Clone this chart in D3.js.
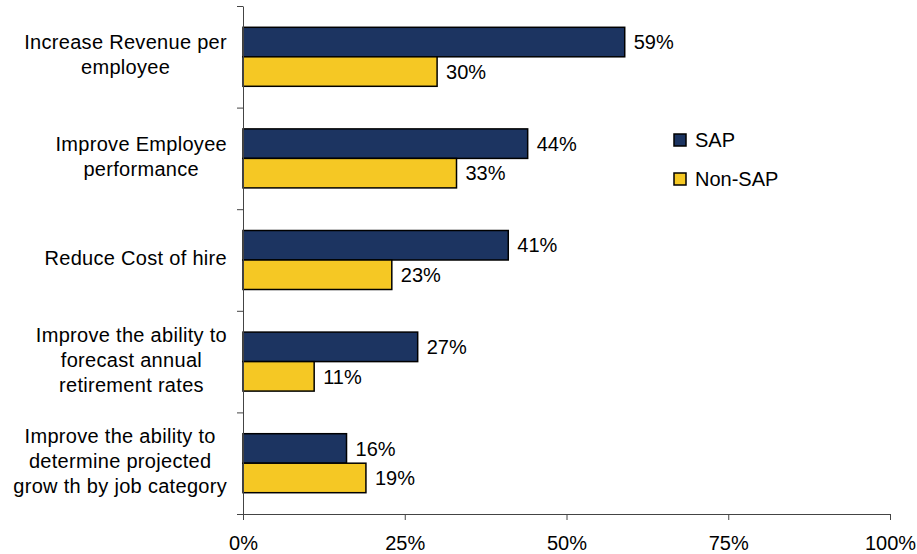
<!DOCTYPE html>
<html>
<head>
<meta charset="utf-8">
<script src="https://cdn.jsdelivr.net/npm/d3@7"></script>
<style>
  body { margin: 0; background: #fff; }
  svg { font-family: "Liberation Sans", Arial, sans-serif; }
</style>
</head>
<body>
<svg id="chart" width="917" height="554"></svg>
<script>
// data
const categories = [
  ['Increase Revenue per', 'employee'],
  ['Improve Employee', 'performance'],
  ['Reduce Cost of hire'],
  ['Improve the ability to', 'forecast annual', 'retirement rates'],
  ['Improve the ability to', 'determine projected', 'grow th by job category']
];
const series = ['SAP', 'Non-SAP'];
const sapValues = [0.59, 0.44, 0.41, 0.27, 0.16];
const nonSapValues = [0.30, 0.33, 0.23, 0.11, 0.19];
const xTicks = [0, 0.25, 0.5, 0.75, 1];
const colors = ['#1c3461', '#f5c824'];

const svg = d3.select('#chart');
const fontSize = 20;

const x = d3.scaleLinear().domain([0, 1]).range([243, 890]);
const catIdx = categories.map((d, i) => i);
const y = d3.scaleBand().domain(catIdx).range([6, 514]);
const yEdges = d3.scaleLinear().domain([0, categories.length]).range([6, 514]);
const sub = d3.scaleBand().domain(series)
  .range([y.bandwidth() / 2 - 29.5, y.bandwidth() / 2 + 29.5]);

const rows = catIdx.map(i => ({ i, vals: [sapValues[i], nonSapValues[i]] }));

// bars
const groups = svg.selectAll('g.cat')
  .data(rows)
  .enter().append('g')
    .attr('class', 'cat')
    .attr('transform', d => `translate(0, ${y(d.i)})`);

groups.selectAll('rect')
  .data(d => d.vals.map((v, k) => ({ v, k })))
  .enter().append('rect')
    .attr('x', x(0))
    .attr('y', d => sub(series[d.k]))
    .attr('width', d => x(d.v) - x(0))
    .attr('height', sub.bandwidth())
    .attr('fill', d => colors[d.k])
    .attr('stroke', '#000')
    .attr('stroke-width', 1.5);

groups.selectAll('text.val')
  .data(d => d.vals.map((v, k) => ({ v, k })))
  .enter().append('text')
    .attr('class', 'val')
    .attr('x', d => x(d.v) + 9)
    .attr('y', d => sub(series[d.k]) + sub.bandwidth() / 2)
    .attr('dy', '0.36em')
    .style('font-size', fontSize + 'px')
    .attr('fill', '#000')
    .text(d => d3.format('.0%')(d.v));

// y axis: line plus ticks at band edges
const yAxis = d3.axisLeft(yEdges)
  .tickValues(d3.range(categories.length + 1))
  .tickFormat('')
  .tickSize(6)
  .tickSizeOuter(0);
svg.append('g')
  .attr('transform', `translate(${x(0)}, 0)`)
  .call(yAxis)
  .call(g => g.selectAll('line, path').attr('stroke', '#444'));

// x axis
const xAxis = d3.axisBottom(x)
  .tickValues(xTicks)
  .tickFormat(d3.format('.0%'))
  .tickSize(6)
  .tickSizeOuter(0);
svg.append('g')
  .attr('transform', `translate(0, ${yEdges(categories.length)})`)
  .call(xAxis)
  .call(g => g.selectAll('line, path').attr('stroke', '#444'))
  .call(g => g.selectAll('text')
    .attr('y', 36).attr('dy', 0)
    .attr('fill', '#000')
    .style('font-size', fontSize + 'px')
    .style('font-family', '"Liberation Sans", Arial, sans-serif'));

// category labels: block right-aligned, lines centred inside the block
const labelRight = 227;
const lineH = 25;
const labels = svg.selectAll('g.lbl')
  .data(rows)
  .enter().append('g')
    .attr('class', 'lbl');

labels.each(function(d) {
  const g = d3.select(this);
  const lines = categories[d.i];
  const mid = y(d.i) + y.bandwidth() / 2;
  const texts = g.selectAll('text')
    .data(lines)
    .enter().append('text')
      .attr('y', (t, k) => mid + (k - (lines.length - 1) / 2) * lineH + 5)
      .attr('text-anchor', 'middle')
      .style('font-size', fontSize + 'px')
      .style('letter-spacing', '0.3px')
      .attr('fill', '#000')
      .text(t => t);
  let maxW = 0;
  texts.each(function() { maxW = Math.max(maxW, this.getComputedTextLength()); });
  texts.attr('x', labelRight - maxW / 2);
});

// legend
const legend = svg.append('g')
  .attr('transform', 'translate(674, 134)');
const items = legend.selectAll('g')
  .data(series)
  .enter().append('g')
    .attr('transform', (d, i) => `translate(0, ${i * 39})`);
items.append('rect')
  .attr('width', 12)
  .attr('height', 12)
  .attr('fill', (d, i) => colors[i])
  .attr('stroke', '#000')
  .attr('stroke-width', 1.5);
items.append('text')
  .attr('x', 21)
  .attr('y', 6)
  .attr('dy', '0.36em')
  .style('font-size', fontSize + 'px')
  .attr('fill', '#000')
  .text(d => d);
</script>
</body>
</html>
